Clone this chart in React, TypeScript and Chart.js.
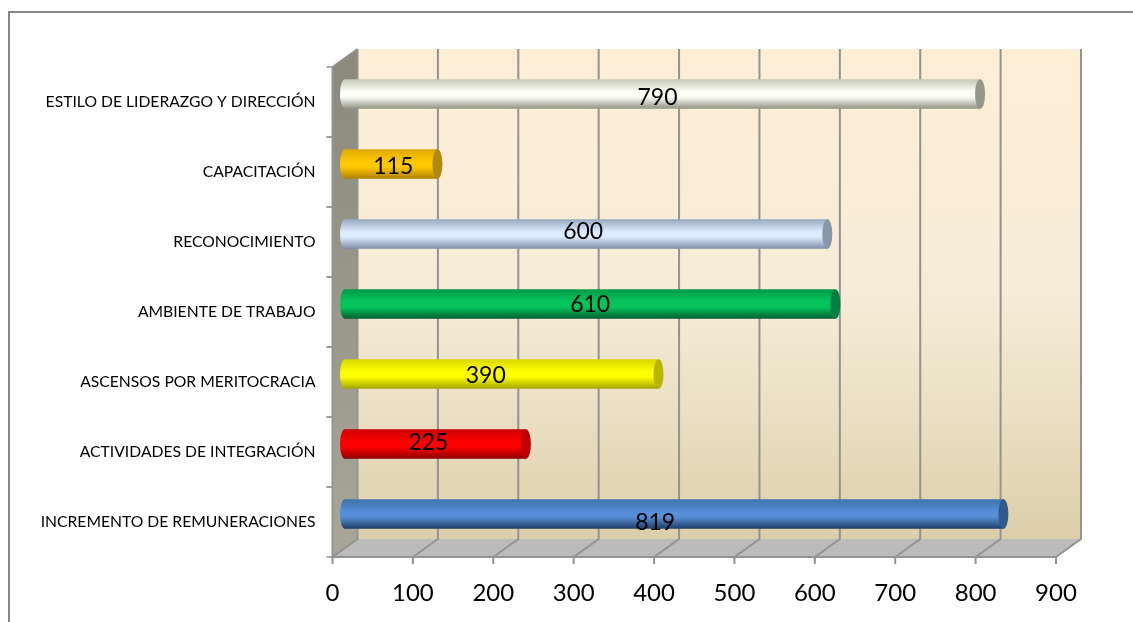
import React, { useEffect, useRef } from "react";
import { Chart, registerables } from "chart.js";

Chart.register(...registerables);

const categories = [
  "INCREMENTO DE REMUNERACIONES",
  "ACTIVIDADES DE INTEGRACIÓN",
  "ASCENSOS POR MERITOCRACIA",
  "AMBIENTE DE TRABAJO",
  "RECONOCIMIENTO",
  "CAPACITACIÓN",
  "ESTILO DE LIDERAZGO Y DIRECCIÓN",
];
const values = [819, 225, 390, 610, 600, 115, 790];
const xTicks = [0, 100, 200, 300, 400, 500, 600, 700, 800, 900];

// Cylinder shading per bar: edge, highlight, shadow, end cap
const barShades = [
  ["#3f72ad", "#568fd7", "#1f3d66", "#2f5a8e"],
  ["#cc0000", "#ff0000", "#8c0000", "#c00000"],
  ["#d8d800", "#ffff00", "#a4a400", "#b8b400"],
  ["#009a48", "#05c45c", "#005f30", "#008040"],
  ["#98a8be", "#dcebff", "#7f8ea6", "#8797ac"],
  ["#e0a800", "#ffc800", "#b08000", "#b08a10"],
  ["#c4c8b4", "#fdfff5", "#8f9484", "#949888"],
];
// Hand placement of the value labels relative to each bar's middle
const labelShift = [
  [-19, 8], [-7, -2], [-16, 1], [0, 0], [-3, -3], [2, 2], [-5, 3],
];

const DEPTH_X = 25;
const DEPTH_Y = -18;
const BAR_LIFT = DEPTH_Y / 2 + 1;
const WALL_LINE = "#939393";

function cylinderFill(ctx: CanvasRenderingContext2D, mid: number, half: number, shade: string[]) {
  const g = ctx.createLinearGradient(0, mid - half, 0, mid + half);
  g.addColorStop(0, shade[0]);
  g.addColorStop(0.42, shade[1]);
  g.addColorStop(0.6, shade[1]);
  g.addColorStop(1, shade[2]);
  return g;
}

const frame3d = {
  id: "frame3d",
  beforeDraw(chart: any) {
    const { ctx, chartArea: a, scales } = chart;
    const x = scales.x;
    const y = scales.y;
    const backTop = a.top + DEPTH_Y;
    const backBottom = a.bottom + DEPTH_Y;
    ctx.save();
    ctx.fillStyle = "#fff";
    ctx.fillRect(0, 0, chart.width, chart.height);

    // Outer chart border (left and top only are in view)
    ctx.strokeStyle = "#868686";
    ctx.lineWidth = 2;
    ctx.beginPath();
    ctx.moveTo(9, chart.height);
    ctx.lineTo(9, 12);
    ctx.lineTo(chart.width, 12);
    ctx.stroke();

    // Back wall
    const wall = ctx.createLinearGradient(0, backTop, 0, backBottom);
    wall.addColorStop(0, "#feeed6");
    wall.addColorStop(0.5, "#f6ecd6");
    wall.addColorStop(0.75, "#eadfc2");
    wall.addColorStop(1, "#dccea9");
    ctx.fillStyle = wall;
    ctx.fillRect(a.left + DEPTH_X, backTop, a.right - a.left, backBottom - backTop);

    // Side wall
    const side = ctx.createLinearGradient(0, backTop, 0, a.bottom);
    side.addColorStop(0, "#8a897b");
    side.addColorStop(1, "#a8a698");
    ctx.fillStyle = side;
    ctx.beginPath();
    ctx.moveTo(a.left, a.top);
    ctx.lineTo(a.left + DEPTH_X, backTop);
    ctx.lineTo(a.left + DEPTH_X, backBottom);
    ctx.lineTo(a.left, a.bottom);
    ctx.closePath();
    ctx.fill();

    // Floor
    ctx.fillStyle = "#bbbbbb";
    ctx.beginPath();
    ctx.moveTo(a.left, a.bottom);
    ctx.lineTo(a.left + DEPTH_X, backBottom);
    ctx.lineTo(a.right + DEPTH_X, backBottom);
    ctx.lineTo(a.right, a.bottom);
    ctx.closePath();
    ctx.fill();

    // Gridlines run across the floor and up the back wall
    ctx.strokeStyle = WALL_LINE;
    ctx.lineWidth = 2;
    xTicks.forEach((t) => {
      const px = x.getPixelForValue(t);
      ctx.beginPath();
      ctx.moveTo(px, a.bottom);
      ctx.lineTo(px + DEPTH_X, backBottom);
      ctx.lineTo(px + DEPTH_X, backTop);
      ctx.stroke();
      ctx.beginPath();
      ctx.moveTo(px, a.bottom);
      ctx.lineTo(px, a.bottom + 7);
      ctx.stroke();
    });

    // Front edges and tick marks of the category axis
    ctx.beginPath();
    ctx.moveTo(a.left, a.top);
    ctx.lineTo(a.left + DEPTH_X, backTop);
    ctx.moveTo(a.left, a.top);
    ctx.lineTo(a.left, a.bottom);
    ctx.lineTo(a.right, a.bottom);
    ctx.stroke();
    ctx.lineWidth = 1.5;
    categories.forEach((_, i) => {
      const half = (y.getPixelForValue(0) - y.getPixelForValue(1)) / 2;
      const py = y.getPixelForValue(i);
      [py - half, py + half].forEach((ty) => {
        ctx.beginPath();
        ctx.moveTo(a.left - 6, ty);
        ctx.lineTo(a.left, ty);
        ctx.stroke();
      });
    });
    ctx.restore();
  },
  // Bars stand midway between the front edge and the back wall
  beforeDatasetDraw(chart: any) {
    const { ctx } = chart;
    ctx.save();
    ctx.translate(DEPTH_X / 2, BAR_LIFT);
    chart.getDatasetMeta(0).data.forEach((bar: any, i: number) => {
      const ry = bar.height / 2;
      ctx.fillStyle = cylinderFill(ctx, bar.y, ry, barShades[i]);
      ctx.beginPath();
      ctx.ellipse(bar.base, bar.y, 5, ry, 0, 0, Math.PI * 2);
      ctx.fill();
    });
  },
  afterDatasetDraw(chart: any) {
    const { ctx } = chart;
    chart.getDatasetMeta(0).data.forEach((bar: any, i: number) => {
      ctx.fillStyle = barShades[i][3];
      ctx.beginPath();
      ctx.ellipse(bar.x, bar.y, 5, bar.height / 2, 0, 0, Math.PI * 2);
      ctx.fill();
    });
    ctx.restore();
  },
  afterDatasetsDraw(chart: any) {
    const { ctx } = chart;
    ctx.save();
    ctx.fillStyle = "#000";
    ctx.font = "23px Lato";
    ctx.textAlign = "center";
    ctx.textBaseline = "middle";
    chart.getDatasetMeta(0).data.forEach((bar: any, i: number) => {
      const mid = (bar.x + bar.base) / 2 + DEPTH_X / 2;
      ctx.fillText(
        String(values[i]),
        mid + labelShift[i][0],
        bar.y + BAR_LIFT + labelShift[i][1] + 1
      );
    });
    ctx.restore();
  },
};

export default function App() {
  const ref = useRef<HTMLCanvasElement | null>(null);

  useEffect(() => {
    document.body.style.margin = "0";
    const chart = new Chart(ref.current as HTMLCanvasElement, {
      type: "bar",
      data: {
        labels: categories,
        datasets: [
          {
            data: values,
            categoryPercentage: 1,
            barPercentage: 0.42,
            backgroundColor: (c: any) => {
              const area = c.chart.chartArea;
              if (!area || c.dataIndex === undefined) return "#888";
              const mid = c.chart.scales.y.getPixelForValue(c.dataIndex);
              return cylinderFill(c.chart.ctx, mid, 14.7, barShades[c.dataIndex]);
            },
          },
        ],
      },
      options: {
        indexAxis: "y",
        responsive: false,
        animation: false,
        layout: { padding: { top: 67, right: 77, bottom: 0, left: 0 } },
        plugins: { legend: { display: false }, tooltip: { enabled: false } },
        scales: {
          x: {
            min: 0,
            max: 900,
            grid: { display: false },
            border: { display: false },
            afterFit: (s: any) => {
              s.height = 65;
            },
            afterBuildTicks: (s: any) => {
              s.ticks = xTicks.map((value) => ({ value }));
            },
            ticks: {
              color: "#000",
              padding: 14,
              maxRotation: 0,
              font: { family: "Lato", size: 24 },
            },
          },
          y: {
            reverse: true,
            grid: { display: false },
            border: { display: false },
            afterFit: (s: any) => {
              s.width = 332.5;
            },
            ticks: {
              color: "#000",
              padding: 9,
              autoSkip: false,
              font: { family: "Lato", size: 15.7 },
            },
          },
        },
      },
      plugins: [frame3d],
    } as any);
    return () => chart.destroy();
  }, []);

  return (
    <div style={{ width: 1133, height: 622 }}>
      <canvas ref={ref} width={1133} height={622} style={{ display: "block" }} />
    </div>
  );
}
